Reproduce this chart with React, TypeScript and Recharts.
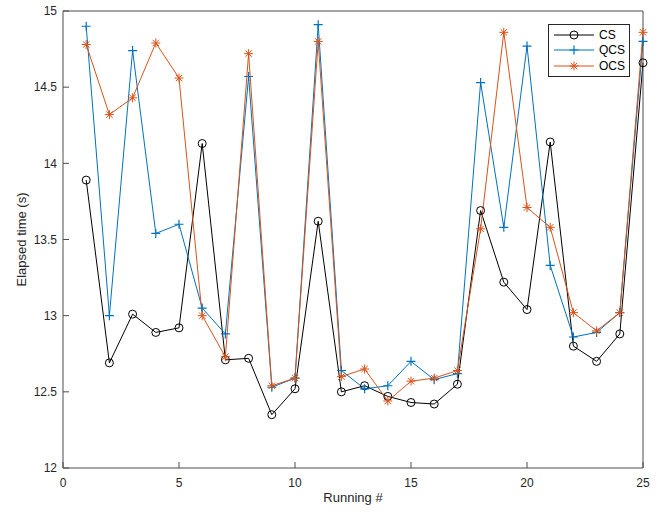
import {
  LineChart,
  Line,
  XAxis,
  YAxis,
  Legend,
} from "recharts";

const runs = [1, 2, 3, 4, 5, 6, 7, 8, 9, 10, 11, 12, 13, 14, 15, 16, 17, 18, 19, 20, 21, 22, 23, 24, 25];
const cs = [13.89, 12.69, 13.01, 12.89, 12.92, 14.13, 12.71, 12.72, 12.35, 12.52, 13.62, 12.5, 12.54, 12.47, 12.43, 12.42, 12.55, 13.69, 13.22, 13.04, 14.14, 12.8, 12.7, 12.88, 14.66];
const qcs = [14.9, 13.0, 14.74, 13.54, 13.6, 13.05, 12.88, 14.57, 12.53, 12.59, 14.91, 12.64, 12.52, 12.54, 12.7, 12.58, 12.62, 14.53, 13.58, 14.77, 13.33, 12.86, 12.89, 13.02, 14.8];
const ocs = [14.78, 14.32, 14.43, 14.79, 14.56, 13.0, 12.73, 14.72, 12.54, 12.59, 14.8, 12.6, 12.65, 12.44, 12.57, 12.59, 12.64, 13.57, 14.86, 13.71, 13.58, 13.02, 12.9, 13.02, 14.86];

const xTicks = [0, 5, 10, 15, 20, 25];
const yTicks = [12, 12.5, 13, 13.5, 14, 14.5, 15];

const data = runs.map((r, i) => ({ run: r, cs: cs[i], qcs: qcs[i], ocs: ocs[i] }));

const BLUE = "#0072BD";
const ORANGE = "#D95319";
const AXIS = "#4d4d4d";
const TEXT = "#262626";
const FONT = "'Liberation Sans', Arial, Helvetica, sans-serif";

function circleMark(cx: number, cy: number, color: string) {
  return <circle cx={cx} cy={cy} r={4} fill="none" stroke={color} strokeWidth={1} />;
}

function plusMark(cx: number, cy: number, color: string) {
  const s = 4.5;
  return (
    <path
      d={`M${cx - s},${cy}H${cx + s}M${cx},${cy - s}V${cy + s}`}
      stroke={color}
      strokeWidth={1.2}
      fill="none"
    />
  );
}

function starMark(cx: number, cy: number, color: string) {
  const s = 4.5;
  const d = 3.2;
  return (
    <path
      d={`M${cx - s},${cy}H${cx + s}M${cx},${cy - s}V${cy + s}M${cx - d},${cy - d}L${cx + d},${cy + d}M${cx - d},${cy + d}L${cx + d},${cy - d}`}
      stroke={color}
      strokeWidth={1}
      fill="none"
    />
  );
}

const CsDot = (p: any) =>
  p.cx == null ? <g key={p.index} /> : <g key={p.index}>{circleMark(p.cx, p.cy, "#000")}</g>;
const QcsDot = (p: any) =>
  p.cx == null ? <g key={p.index} /> : <g key={p.index}>{plusMark(p.cx, p.cy, BLUE)}</g>;
const OcsDot = (p: any) =>
  p.cx == null ? <g key={p.index} /> : <g key={p.index}>{starMark(p.cx, p.cy, ORANGE)}</g>;

const legendItems = [
  { label: "CS", color: "#000", mark: circleMark },
  { label: "QCS", color: BLUE, mark: plusMark },
  { label: "OCS", color: ORANGE, mark: starMark },
];

function LegendBox() {
  return (
    <div
      style={{
        border: "1px solid #262626",
        background: "#fff",
        padding: "2px 0",
        fontFamily: FONT,
        fontSize: 12,
        color: "#000",
      }}
    >
      {legendItems.map((it) => (
        <div key={it.label} style={{ display: "flex", alignItems: "center", height: 15.5 }}>
          <svg width={48} height={14} style={{ display: "block" }}>
            <line x1={5} y1={7} x2={45} y2={7} stroke={it.color} strokeWidth={1} />
            {it.mark(25, 7, it.color)}
          </svg>
          <span style={{ marginLeft: 2 }}>{it.label}</span>
        </div>
      ))}
    </div>
  );
}

export default function App() {
  const tickStyle = { fill: TEXT, fontSize: 12, fontFamily: FONT };
  return (
    <div style={{ position: "absolute", left: 0, top: 0, background: "#fff" }}>
      <LineChart
        width={665}
        height={515}
        data={data}
        margin={{ top: 0, right: 0, bottom: 0, left: 0 }}
      >
        <XAxis
          xAxisId="top"
          orientation="top"
          dataKey="run"
          type="number"
          domain={[0, 25]}
          ticks={xTicks}
          height={11}
          tick={false}
          tickSize={-6}
          stroke={AXIS}
          tickLine={{ stroke: AXIS }}
        />
        <XAxis
          dataKey="run"
          type="number"
          domain={[0, 25]}
          ticks={xTicks}
          height={47}
          tickSize={-6}
          tickMargin={16}
          stroke={AXIS}
          tickLine={{ stroke: AXIS }}
          tick={tickStyle}
          label={{
            value: "Running #",
            position: "insideBottom",
            offset: 13,
            style: { fill: TEXT, fontSize: 13, fontFamily: FONT },
          }}
        />
        <YAxis
          domain={[12, 15]}
          ticks={yTicks}
          width={63}
          tickSize={-6}
          tickMargin={12}
          stroke={AXIS}
          tickLine={{ stroke: AXIS }}
          tick={tickStyle}
          label={{
            value: "Elapsed time (s)",
            angle: -90,
            position: "insideLeft",
            offset: 21,
            style: { textAnchor: "middle", fill: TEXT, fontSize: 13, fontFamily: FONT },
          }}
        />
        <YAxis
          yAxisId="right"
          orientation="right"
          domain={[12, 15]}
          ticks={yTicks}
          width={22}
          tickSize={-6}
          tick={false}
          stroke={AXIS}
          tickLine={{ stroke: AXIS }}
        />
        <Legend
          layout="vertical"
          align="center"
          verticalAlign="middle"
          content={() => <LegendBox />}
          wrapperStyle={{ left: 548, top: 24, width: 82 }}
        />
        <Line
          dataKey="cs"
          name="CS"
          stroke="#000"
          strokeWidth={1}
          dot={CsDot}
          activeDot={false}
          isAnimationActive={false}
        />
        <Line
          dataKey="qcs"
          name="QCS"
          stroke={BLUE}
          strokeWidth={1}
          dot={QcsDot}
          activeDot={false}
          isAnimationActive={false}
        />
        <Line
          dataKey="ocs"
          name="OCS"
          stroke={ORANGE}
          strokeWidth={1}
          dot={OcsDot}
          activeDot={false}
          isAnimationActive={false}
        />
      </LineChart>
    </div>
  );
}
